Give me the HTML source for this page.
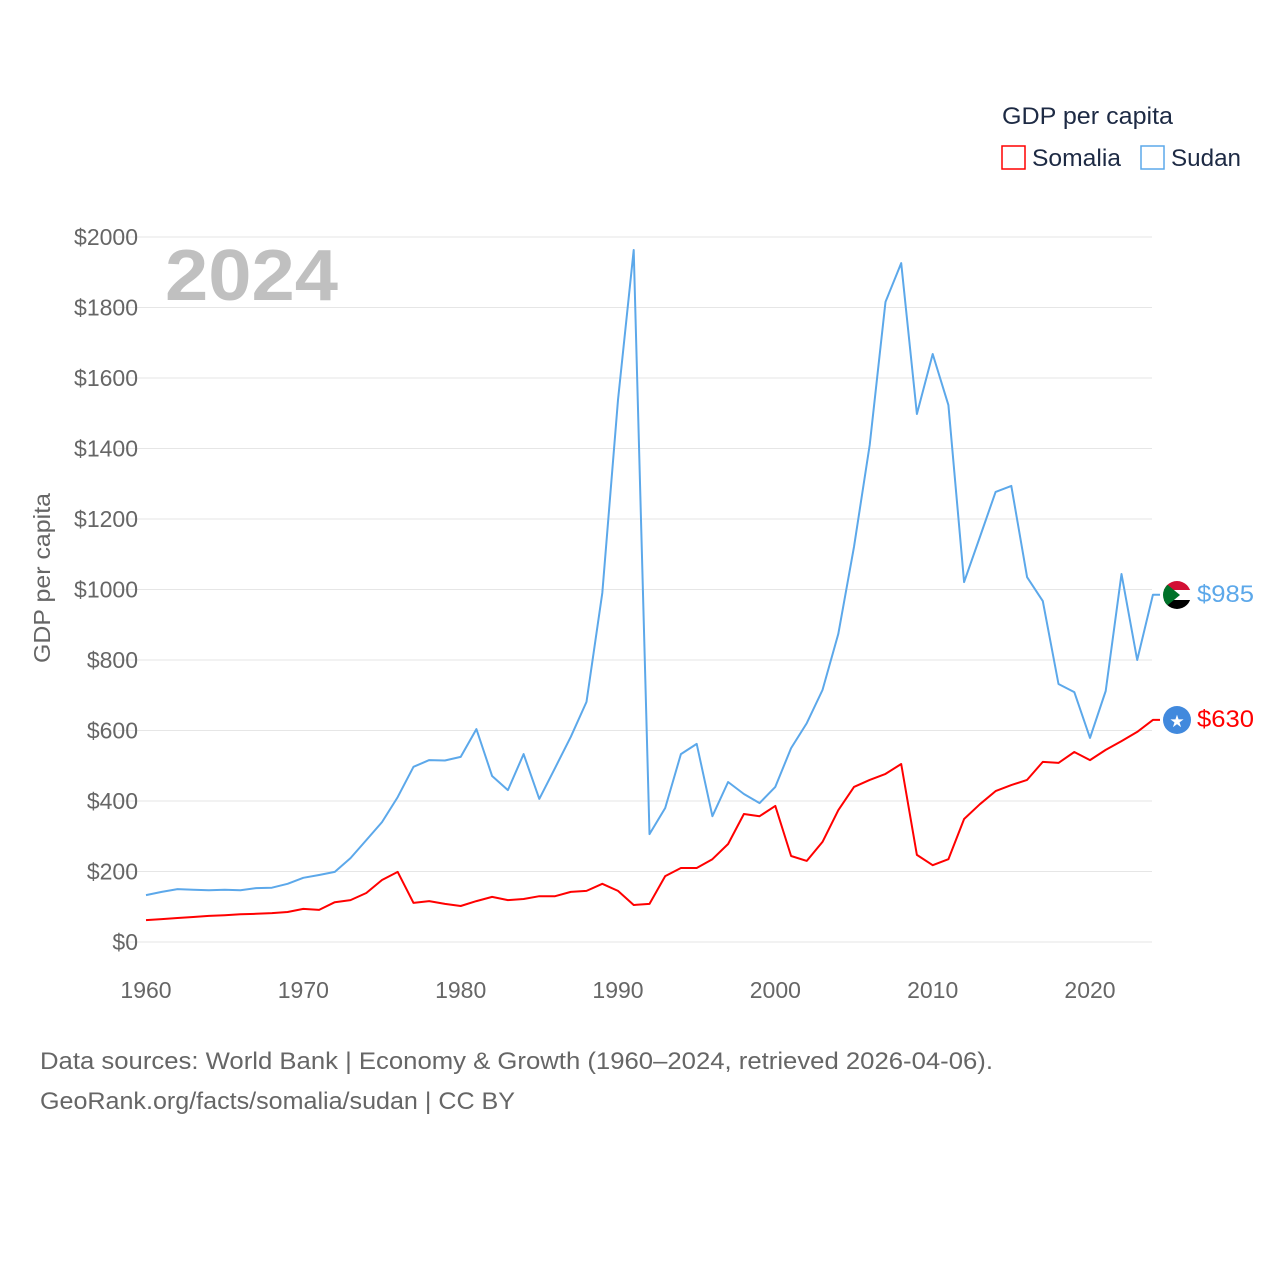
<!DOCTYPE html>
<html><head><meta charset="utf-8"><style>
body{margin:0;background:#fff;font-family:"Liberation Sans",sans-serif}
svg text{font-family:"Liberation Sans",sans-serif}
</style></head><body>
<svg id="chart" width="1280" height="1280" viewBox="0 0 1280 1280" xmlns="http://www.w3.org/2000/svg">
<rect width="1280" height="1280" fill="#fff"/>
<g id="grid"></g>
<g id="yticks"></g>
<g id="xticks"></g>
<text x="165" y="300" font-size="72" font-weight="bold" fill="#c0c0c0" textLength="173" lengthAdjust="spacingAndGlyphs">2024</text>
<text transform="translate(50,578) rotate(-90)" text-anchor="middle" font-size="23" fill="#666" textLength="170" lengthAdjust="spacingAndGlyphs">GDP per capita</text>
<g id="series"></g>
<text x="1002" y="124" font-size="24" fill="#1d2a44" textLength="171" lengthAdjust="spacingAndGlyphs">GDP per capita</text>
<g><rect x="1002" y="146" width="23" height="23" fill="none" stroke="#ff0000" stroke-width="1.5"/><text x="1032" y="166" font-size="24" fill="#1d2a44" textLength="89" lengthAdjust="spacingAndGlyphs">Somalia</text></g>
<g><rect x="1141" y="146" width="23" height="23" fill="none" stroke="#5ca8ea" stroke-width="1.5"/><text x="1171" y="166" font-size="24" fill="#1d2a44" textLength="70" lengthAdjust="spacingAndGlyphs">Sudan</text></g>
<g>
<clipPath id="fc"><circle cx="1177" cy="595" r="14"/></clipPath>
<g clip-path="url(#fc)"><rect x="1160" y="580" width="35" height="10" fill="#d21034"/><rect x="1160" y="590" width="35" height="10" fill="#fff"/><rect x="1160" y="600" width="35" height="12" fill="#000"/><polygon points="1163,581 1180,595 1163,609" fill="#007229"/></g></g>
<g><circle cx="1177" cy="720" r="14" fill="#4189dd"/><text x="1177" y="727" font-size="17" fill="#fff" text-anchor="middle">★</text></g>
<text x="1197" y="602" font-size="24" fill="#5ca8ea" textLength="57" lengthAdjust="spacingAndGlyphs">$985</text>
<text x="1197" y="727" font-size="24" fill="#ff0000" textLength="57" lengthAdjust="spacingAndGlyphs">$630</text>
<text x="40" y="1069" font-size="24" fill="#666" textLength="953" lengthAdjust="spacingAndGlyphs">Data sources: World Bank | Economy &amp; Growth (1960–2024, retrieved 2026-04-06).</text>
<text x="40" y="1109" font-size="24" fill="#666" textLength="475" lengthAdjust="spacingAndGlyphs">GeoRank.org/facts/somalia/sudan | CC BY</text>
</svg>
<script>
const years=[];for(let y=1960;y<=2024;y++)years.push(y);
const sudan=[133,142,150,148,147,148,147,153,154,165,182,190,199,238,289,340,411,497,516,515,525,604,471,431,533,406,494,582,681,990,1538,1963,306,380,533,562,357,454,420,394,440,550,621,715,874,1121,1410,1816,1926,1498,1668,1523,1021,1149,1277,1294,1035,967,732,709,579,712,1044,800,985];
const somalia=[62,65,68,71,74,76,79,80,82,85,94,91,113,119,139,176,199,111,116,108,102,116,128,119,122,130,130,142,145,165,145,105,108,187,210,210,235,278,363,357,386,244,230,284,374,440,460,477,505,247,218,235,349,391,428,445,460,511,508,539,516,545,570,596,630];
const yTicks=[0,200,400,600,800,1000,1200,1400,1600,1800,2000];
const xTicks=[1960,1970,1980,1990,2000,2010,2020];
const NS="http://www.w3.org/2000/svg";
const X=v=>146+(v-1960)*(1090-146)/60;
const Y=v=>942-v*705/2000;
function mk(tag,attrs,parent){const e=document.createElementNS(NS,tag);for(const k in attrs)e.setAttribute(k,attrs[k]);parent.appendChild(e);return e;}
const grid=document.getElementById('grid'),yt=document.getElementById('yticks'),xt=document.getElementById('xticks'),ser=document.getElementById('series');
yTicks.forEach(t=>{
 const l=mk('line',{x1:118,x2:1152,y1:Y(t),y2:Y(t),stroke:'#e6e6e6','stroke-width':1},grid);
 
 
 const tx=mk('text',{x:138,y:Y(t)+8,'text-anchor':'end','font-size':23,fill:'#666'},yt);
 tx.textContent='$'+t;
 
 
});
xTicks.forEach(t=>{
 const tx=mk('text',{x:X(t),y:998,'text-anchor':'middle','font-size':23,fill:'#666'},xt);
 tx.textContent=t;
 
 
});
function line(vals,color,name){
 let d=vals.map((v,i)=>(i?'L':'M')+X(years[i]).toFixed(1)+','+Y(v).toFixed(1)).join('');
 d+='L1160,'+Y(vals[vals.length-1]).toFixed(1);
 const p=mk('path',{d:d,fill:'none',stroke:color,'stroke-width':2,'stroke-linejoin':'round'},ser);
 
 
}
line(sudan,'#5ca8ea','sudan-line');
line(somalia,'#ff0000','somalia-line');
</script>
</body></html>
